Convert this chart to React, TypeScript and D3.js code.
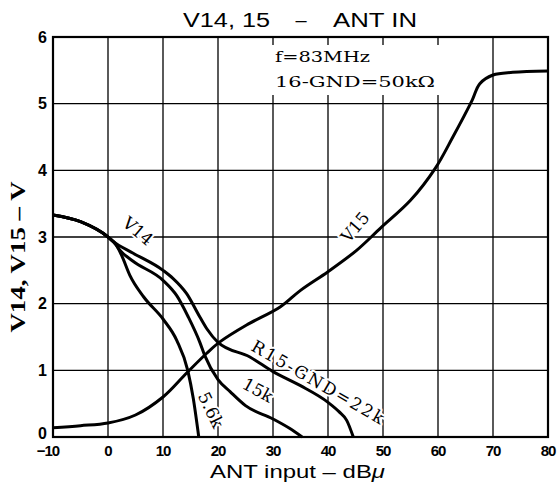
import React from "react";
import * as d3 from "d3";

const xTicks = [-10, 0, 10, 20, 30, 40, 50, 60, 70, 80];
const yTicks = [0, 1, 2, 3, 4, 5, 6];

const v15X = [-10, -5, 0, 5, 10, 14.3, 18, 20.4, 25.2, 31.3, 35, 40, 45.2, 49.5, 55, 59.5, 62.7, 66.2, 67.6, 70, 73.6, 80];
const v15Y = [0.14, 0.17, 0.21, 0.33, 0.6, 0.96, 1.26, 1.43, 1.68, 1.95, 2.2, 2.48, 2.8, 3.13, 3.55, 4.03, 4.5, 5.05, 5.3, 5.43, 5.47, 5.49];

const v14CommonX = [-10, -5, 0];
const v14CommonY = [3.33, 3.23, 3.0];

const r22kX = [1, 4.5, 10, 11.8, 14.3, 16.7, 18, 20, 25.8, 30, 35, 40, 42, 43.4, 44.6];
const r22kY = [2.93, 2.76, 2.5, 2.38, 2.15, 1.8, 1.62, 1.42, 1.2, 0.98, 0.77, 0.52, 0.38, 0.25, 0];

const r15kX = [1.3, 2.2, 4.5, 10, 12.5, 14.6, 16.7, 17.6, 20, 22.2, 25, 30, 33, 35.3];
const r15kY = [2.9, 2.8, 2.64, 2.35, 2.12, 1.8, 1.42, 1.22, 0.86, 0.68, 0.47, 0.27, 0.13, 0];

const r56kX = [1.5, 2.5, 4, 6.5, 10, 12.5, 14.5, 15.5, 16.5];
const r56kY = [2.88, 2.72, 2.42, 2.1, 1.77, 1.45, 1.0, 0.58, 0];

const W = 560, H = 494;
const left = 53, right = 548, top = 37, bottom = 437;

export default function App() {
  const x = d3.scaleLinear().domain([-10, 80]).range([left, right]);
  const y = d3.scaleLinear().domain([0, 6]).range([bottom, top]);
  const mono = d3
    .line<[number, number]>()
    .x((d) => x(d[0]))
    .y((d) => y(d[1]))
    .curve(d3.curveMonotoneX);
  const smooth = d3
    .line<[number, number]>()
    .x((d) => x(d[0]))
    .y((d) => y(d[1]))
    .curve(d3.curveCatmullRom.alpha(0.5));
  const zip = (xs: number[], ys: number[]): [number, number][] => xs.map((v, i) => [v, ys[i]]);
  const common = zip(v14CommonX, v14CommonY);
  const paths = [
    smooth(zip(v15X, v15Y)),
    mono(common.concat(zip(r22kX, r22kY))),
    mono(common.concat(zip(r15kX, r15kY))),
    mono(common.concat(zip(r56kX, r56kY))),
  ];
  const serif = "'DejaVu Serif', 'Liberation Serif', serif";
  const sans = "'Liberation Sans', Arial, sans-serif";
  const halo = { paintOrder: "stroke" as const, stroke: "#fff", strokeWidth: 4, strokeLinejoin: "round" as const };

  const label = (txt: string, cx: number, cy: number, rot: number, len?: number) => (
    <text
      transform={`translate(${cx},${cy}) rotate(${rot})`}
      textAnchor="middle"
      dominantBaseline="central"
      fontFamily={serif}
      fontSize={17}
      textLength={len}
      lengthAdjust={len ? "spacing" : undefined}
      style={halo}
    >
      {txt}
    </text>
  );

  return (
    <svg width={W} height={H} style={{ position: "absolute", left: 0, top: 0, background: "#fff" }}>
      <rect x={0} y={0} width={W} height={H} fill="#fff" />
      {xTicks.map((t) => (
        <line key={"gx" + t} x1={x(t)} x2={x(t)} y1={top} y2={bottom} stroke="#000" strokeWidth={1.3} />
      ))}
      {yTicks.map((t) => (
        <line key={"gy" + t} x1={left} x2={right} y1={y(t)} y2={y(t)} stroke="#000" strokeWidth={1.3} />
      ))}
      <rect x={left} y={top} width={right - left} height={bottom - top} fill="none" stroke="#000" strokeWidth={2.2} />

      {/* annotation box */}
      <rect x={270} y={45} width={172} height={50} fill="#fff" />
      <text x={275} y={62} fontFamily={serif} fontSize={15.5} textLength={95} lengthAdjust="spacingAndGlyphs">
        f=83MHz
      </text>
      <text x={275} y={87} fontFamily={serif} fontSize={15.5} textLength={160} lengthAdjust="spacingAndGlyphs">
        16-GND=50kΩ
      </text>

      {paths.map((d, i) => (
        <path key={"c" + i} d={d || ""} fill="none" stroke="#000" strokeWidth={3} strokeLinejoin="round" strokeLinecap="butt" />
      ))}

      {label("V14", 138, 231, 40)}
      {label("V15", 355, 227, -50)}
      {label("R15-GND=22k", 318, 382, 30, 150)}
      {label("15k", 258, 390, 29)}
      {label("5.6k", 211, 410, 64)}

      {/* y tick labels */}
      {yTicks.map((t) => (
        <text key={"ty" + t} x={47} y={y(t) - (t === 0 ? 4 : 0)} dy="0.36em" textAnchor="end" fontFamily={sans} fontWeight="bold" fontSize={16}>
          {t}
        </text>
      ))}
      {/* x tick labels */}
      {xTicks.map((t) => (
        <text
          key={"tx" + t}
          x={x(t) + (t < 0 ? -5 : 0)}
          y={456}
          textAnchor="middle"
          fontFamily={sans}
          fontWeight="bold"
          fontSize={15}
          letterSpacing={-1}
        >
          {t < 0 ? "\u2212" + Math.abs(t) : String(t)}
        </text>
      ))}

      {/* title */}
      <text x={183} y={27} fontFamily={sans} fontSize={20} textLength={87} lengthAdjust="spacingAndGlyphs">
        V14, 15
      </text>
      <text x={301} y={27} textAnchor="middle" fontFamily={sans} fontSize={20}>
        –
      </text>
      <text x={333} y={27} fontFamily={sans} fontSize={20} textLength={84} lengthAdjust="spacingAndGlyphs">
        ANT IN
      </text>

      {/* x axis title */}
      <text x={210} y={478} fontFamily={sans} fontSize={19} textLength={175} lengthAdjust="spacingAndGlyphs">
        ANT input – dB<tspan fontStyle="italic">μ</tspan>
      </text>

      {/* y axis title */}
      <text
        transform={`translate(25,257) rotate(-90)`}
        textAnchor="middle"
        fontFamily="'Liberation Serif', serif"
        fontWeight="bold"
        fontSize={20}
        textLength={151}
        lengthAdjust="spacingAndGlyphs"
      >
        V14, V15  –  V
      </text>
    </svg>
  );
}
